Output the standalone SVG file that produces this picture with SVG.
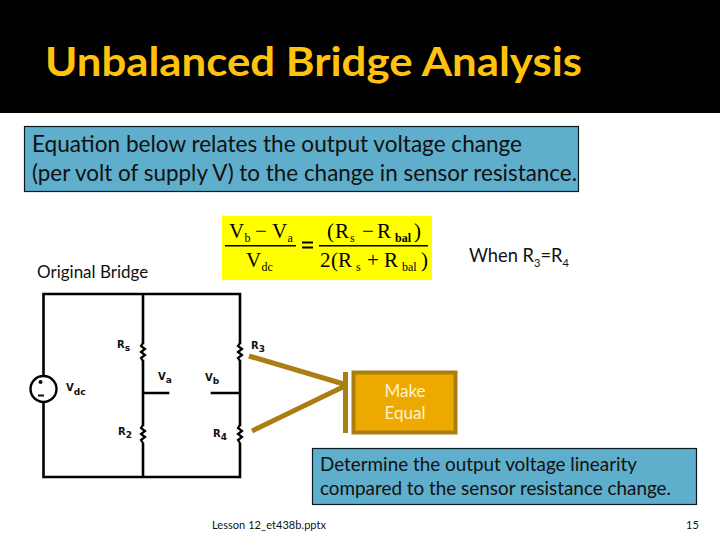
<svg xmlns="http://www.w3.org/2000/svg" width="720" height="540" viewBox="0 0 720 540">
<style>
.t{font-family:"Lato","Open Sans",sans-serif;fill:#111}
.box{fill:#5FAECB;stroke:#0A1A22;stroke-width:1.2}
.w{fill:none;stroke:#000;stroke-width:2.6;stroke-linecap:square}
.r{fill:none;stroke:#000;stroke-width:2.2}
.l{font-family:"DejaVu Sans",sans-serif;font-weight:bold;fill:#111;font-size:10px}
.s{font-size:9px}
.g{stroke:#AB7E12;stroke-width:5;fill:none;stroke-linejoin:bevel}
.m{font-family:"Liberation Serif",serif;fill:#000;font-size:21px}
.ms{font-size:12px}
</style>
<rect width="720" height="540" fill="#fff"/>
<rect width="720" height="113" fill="#000"/>
<text id="title" x="45" y="76" font-family="Lato,sans-serif" font-size="39.5" font-weight="bold" fill="#FFC20E" textLength="537" lengthAdjust="spacingAndGlyphs">Unbalanced Bridge Analysis</text>
<g id="intro">
<rect class="box" x="24.500" y="126.500" width="554" height="65"/>
<text class="t" x="32" y="152" font-size="23" textLength="490" lengthAdjust="spacingAndGlyphs">Equation below relates the output voltage change</text>
<text class="t" x="32" y="181" font-size="23" textLength="545" lengthAdjust="spacingAndGlyphs">(per volt of supply V) to the change in sensor resistance.</text>
</g>
<g id="formula">
<rect x="222" y="216" width="210" height="64" fill="#FFFF00"/>
<text class="m" x="229" y="238">V</text><text class="m ms" x="244.500" y="242">b</text>
<text class="m" x="255" y="238">−</text><text class="m" x="272" y="238">V</text><text class="m ms" x="287.500" y="242">a</text>
<rect x="225" y="245" width="71" height="1.500" fill="#000"/>
<text class="m" x="246" y="267">V</text><text class="m ms" x="261.500" y="271">dc</text>
<rect x="302" y="241.500" width="11" height="2" fill="#000"/><rect x="302" y="246.500" width="11" height="2" fill="#000"/>
<text class="m" x="327" y="238">(</text><text class="m" x="335" y="238">R</text><text class="m ms" x="350" y="242">s</text>
<text class="m" x="362" y="238">−</text><text class="m" x="377" y="238">R</text><text class="m ms" x="395" y="242" font-weight="bold">bal</text><text class="m" x="414" y="238">)</text>
<rect x="319" y="245" width="109" height="1.500" fill="#000"/>
<text class="m" x="320" y="267">2</text><text class="m" x="331" y="267">(</text><text class="m" x="338" y="267">R</text><text class="m ms" x="356" y="271">s</text>
<text class="m" x="367" y="267">+</text><text class="m" x="384" y="267">R</text><text class="m ms" x="402" y="271">bal</text><text class="m" x="421" y="267">)</text>
</g>
<text id="when" class="t" x="469" y="262" font-size="18.300">When R<tspan font-size="11" dy="5">3</tspan><tspan dy="-5">=R</tspan><tspan font-size="11" dy="5">4</tspan></text>
<text id="orig" class="t" x="37" y="278" font-size="17">Original Bridge</text>
<g id="connectors">
<path class="w" d="M43.500 376V294H240V343M143 294V343M143 361V425M240 361V425M143 444V477M240 444V477H43.500V402M143 393H168M212 393H240"/>
<path class="r" d="M143 343l-2 3 4 3-4 3 4 3-4 3 2 3M240 343l-2 3 4 3-4 3 4 3-4 3 2 3M143 425l-2 3 4 3-4 3 4 3-4 3 2 3M240 425l-2 3 4 3-4 3 4 3-4 3 2 3"/>
<path class="g" d="M249 356L347 385L252 431"/>
<path class="g" d="M345.500 372V433"/>
</g>
<g id="source">
<circle cx="43.500" cy="389" r="13" fill="#fff" stroke="#000" stroke-width="2.400"/>
<circle cx="40.500" cy="382" r="2" fill="#111"/>
<rect x="38" y="394.500" width="6" height="2" fill="#111"/>
<text class="l" x="66" y="391">V<tspan class="s" dy="4">dc</tspan></text>
</g>
<g id="labels">
<text class="l" x="117" y="348">R<tspan class="s" dy="3">s</tspan></text>
<text class="l" x="118" y="435">R<tspan class="s" dy="3">2</tspan></text>
<text class="l" x="251" y="349">R<tspan class="s" dy="3">3</tspan></text>
<text class="l" x="213" y="437">R<tspan class="s" dy="3">4</tspan></text>
<text class="l" x="158" y="380">V<tspan class="s" dy="3">a</tspan></text>
<text class="l" x="205" y="381">V<tspan class="s" dy="3">b</tspan></text>
</g>
<g id="equal">
<rect x="353.500" y="372.500" width="102" height="60" fill="#EDA900" stroke="#AB7E12" stroke-width="4"/>
<text x="405" y="397" font-family="Lato,sans-serif" font-size="17" fill="#FFF4C8" text-anchor="middle">Make</text>
<text x="405" y="419" font-family="Lato,sans-serif" font-size="17" fill="#FFF4C8" text-anchor="middle">Equal</text>
</g>
<g id="linearity">
<rect class="box" x="312.500" y="448.500" width="384" height="56"/>
<text class="t" x="320" y="471" font-size="19" textLength="317" lengthAdjust="spacingAndGlyphs">Determine the output voltage linearity</text>
<text class="t" x="320" y="495" font-size="19" textLength="351" lengthAdjust="spacingAndGlyphs">compared to the sensor resistance change.</text>
</g>
<text id="footer" class="t" x="212" y="529" font-size="11" textLength="114">Lesson 12_et438b.pptx</text>
<text id="page" class="t" x="686" y="529" font-size="11">15</text>
</svg>
